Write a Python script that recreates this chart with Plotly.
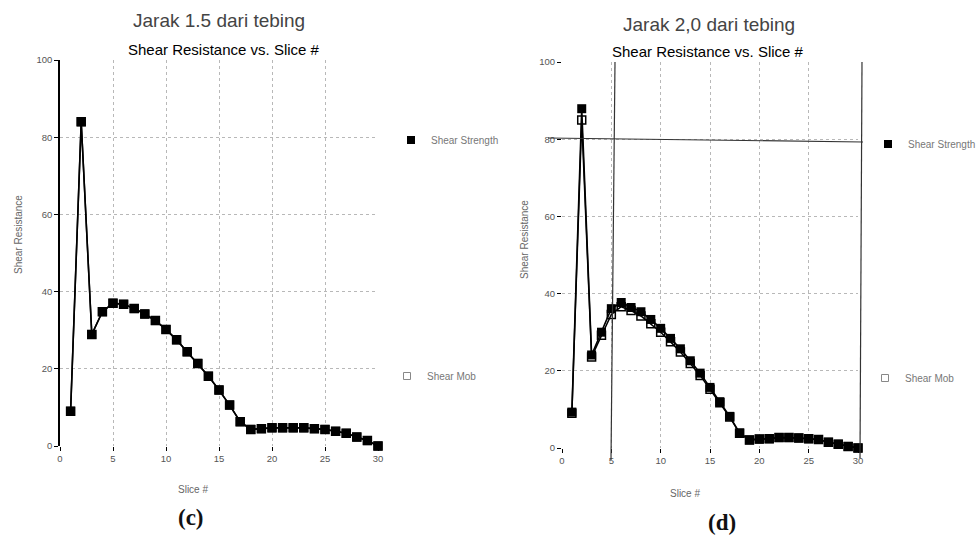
import plotly.graph_objects as go

# ---- data -------------------------------------------------------------
slices = list(range(1, 31))

# panel (c): distance 1.5 from the bank
strength_c = [9.0, 84.0, 28.9, 34.8, 37.0, 36.7, 35.6, 34.2, 32.5, 30.2,
              27.5, 24.4, 21.4, 18.1, 14.5, 10.6, 6.3, 4.3, 4.5, 4.7,
              4.7, 4.7, 4.7, 4.5, 4.3, 3.8, 3.3, 2.3, 1.4, 0.0]
mob_c = [9.0, 84.0, 28.9, 34.8, 37.0, 36.7, 35.6, 34.2, 32.5, 30.2,
         27.5, 24.4, 21.4, 18.1, 14.5, 10.6, 6.3, 4.3, 4.5, 4.7,
         4.7, 4.7, 4.7, 4.5, 4.3, 3.8, 3.3, 2.3, 1.4, 0.0]

# panel (d): distance 2.0 from the bank
strength_d = [9.3, 87.9, 24.1, 30.0, 36.1, 37.7, 36.4, 35.3, 33.3, 31.0,
              28.4, 25.7, 22.6, 19.4, 15.7, 12.0, 8.2, 3.9, 2.1, 2.3,
              2.4, 2.7, 2.7, 2.6, 2.4, 2.2, 1.5, 1.0, 0.4, 0.0]
mob_d = [9.0, 85.0, 23.6, 29.2, 34.6, 36.6, 35.6, 34.2, 32.2, 30.0,
         27.5, 24.9, 21.9, 18.8, 15.2, 11.7, 8.0, 3.8, 2.1, 2.3,
         2.4, 2.7, 2.7, 2.6, 2.4, 2.2, 1.5, 1.0, 0.4, 0.0]

x_ticks = [0, 5, 10, 15, 20, 25, 30]
y_ticks = [0, 20, 40, 60, 80, 100]

W, H = 976, 538


def px(x):
    return x / W


def py(y):
    return 1 - y / H


fig = go.Figure()

SANS = "Arial, Liberation Sans, sans-serif"
TICK_FONT = dict(family=SANS, size=9.5, color="#555")
LEG_FONT = dict(family=SANS, size=10, color="#777")


def add_panel(xref, yref, strength, mob, legs):
    fig.add_trace(go.Scatter(
        x=slices, y=mob, xaxis=xref, yaxis=yref, mode="lines+markers",
        line=dict(color="black", width=1.5),
        marker=dict(symbol="square-open", size=8, color="black",
                    line=dict(width=1.5, color="black")),
        cliponaxis=False, showlegend=False, name="Shear Mob"))
    fig.add_trace(go.Scatter(
        x=slices, y=strength, xaxis=xref, yaxis=yref, mode="lines+markers",
        line=dict(color="black", width=1.6),
        marker=dict(symbol="square", size=9, color="black"),
        cliponaxis=False, showlegend=False, name="Shear Strength"))
    # legend entries
    fig.add_trace(go.Scatter(
        x=[None], y=[None], xaxis=xref, yaxis=yref, mode="markers",
        marker=dict(symbol="square", size=8, color="black"),
        name="Shear Strength", legend=legs[0]))
    fig.add_trace(go.Scatter(
        x=[None], y=[None], xaxis=xref, yaxis=yref, mode="markers",
        marker=dict(symbol="square-open", size=7, color="#888",
                    line=dict(width=1, color="#888")),
        name="Shear Mob", legend=legs[1]))


add_panel("x", "y", strength_c, mob_c, ("legend", "legend2"))
add_panel("x2", "y2", strength_d, mob_d, ("legend3", "legend4"))

GRID = "#b8b8b8"
axis_common = dict(
    range=[0, 30], tickvals=x_ticks, ticks="outside", ticklen=4,
    tickcolor="black", tickfont=TICK_FONT, showgrid=True,
    gridcolor=GRID, griddash="dot", gridwidth=1,
    zeroline=False, showline=False, automargin=False, fixedrange=True)
yaxis_common = dict(
    range=[0, 100], tickvals=y_ticks, ticks="outside", ticklen=4,
    tickcolor="black", tickfont=TICK_FONT, showgrid=True,
    gridcolor=GRID, griddash="dot", gridwidth=1,
    zeroline=False, automargin=False, fixedrange=True)

fig.update_layout(
    width=W, height=H,
    margin=dict(l=0, r=0, t=0, b=0, autoexpand=False),
    paper_bgcolor="white", plot_bgcolor="white",
    xaxis=dict(domain=[px(60), px(378)], anchor="y", **axis_common),
    yaxis=dict(domain=[py(446), py(60)], anchor="x", showline=True,
               linecolor="black", linewidth=1.5, **yaxis_common),
    xaxis2=dict(domain=[px(562), px(858)], anchor="y2", **axis_common),
    yaxis2=dict(domain=[py(448), py(62)], anchor="x2", showline=False,
                **yaxis_common),
)

# legends, one per entry, placed beside each panel
leg_base = dict(font=LEG_FONT, bgcolor="rgba(0,0,0,0)", xanchor="left",
                yanchor="middle", itemwidth=30, tracegroupgap=0)
fig.update_layout(
    legend=dict(x=px(391), y=py(140), **leg_base),
    legend2=dict(x=px(387), y=py(376), **leg_base),
    legend3=dict(x=px(868), y=py(144), **leg_base),
    legend4=dict(x=px(865), y=py(378), **leg_base),
)

# crosshair lines over panel (d), in page coordinates so they are not clipped
line_style = dict(color="#333", width=1.2)
for (x0, y0, x1, y1) in [(548, 138, 863, 142),
                         (615, 62, 611, 460),
                         (862, 62, 860, 458)]:
    fig.add_shape(type="line", xref="paper", yref="paper",
                  x0=px(x0), y0=py(y0), x1=px(x1), y1=py(y1), line=line_style)

# titles and axis labels
TITLE_FONT = dict(family=SANS, size=19, color="#444")
SUB_FONT = dict(family=SANS, size=15, color="#000")
AX_FONT = dict(family=SANS, size=10, color="#666")
CAP_FONT = dict(family="Liberation Serif, Times New Roman, serif", size=23, color="#111")

texts = [
    ("Jarak 1.5 dari tebing", 219, 21, TITLE_FONT, 0),
    ("Shear Resistance vs. Slice #", 224, 49, SUB_FONT, 0),
    ("Jarak 2,0 dari tebing", 709, 25, TITLE_FONT, 0),
    ("Shear Resistance vs. Slice #", 708, 52, SUB_FONT, 0),
    ("Shear Resistance", 18, 235, AX_FONT, -90),
    ("Shear Resistance", 524, 240, AX_FONT, -90),
    ("Slice #", 193, 489, AX_FONT, 0),
    ("Slice #", 685, 493, AX_FONT, 0),
    ("<b>(c)</b>", 191, 517, CAP_FONT, 0),
    ("<b>(d)</b>", 722, 522, CAP_FONT, 0),
]
for txt, x, y, font, ang in texts:
    fig.add_annotation(text=txt, x=px(x), y=py(y), xref="paper", yref="paper",
                       showarrow=False, font=font, textangle=ang,
                       xanchor="center", yanchor="middle")

fig.write_html("out.html")
